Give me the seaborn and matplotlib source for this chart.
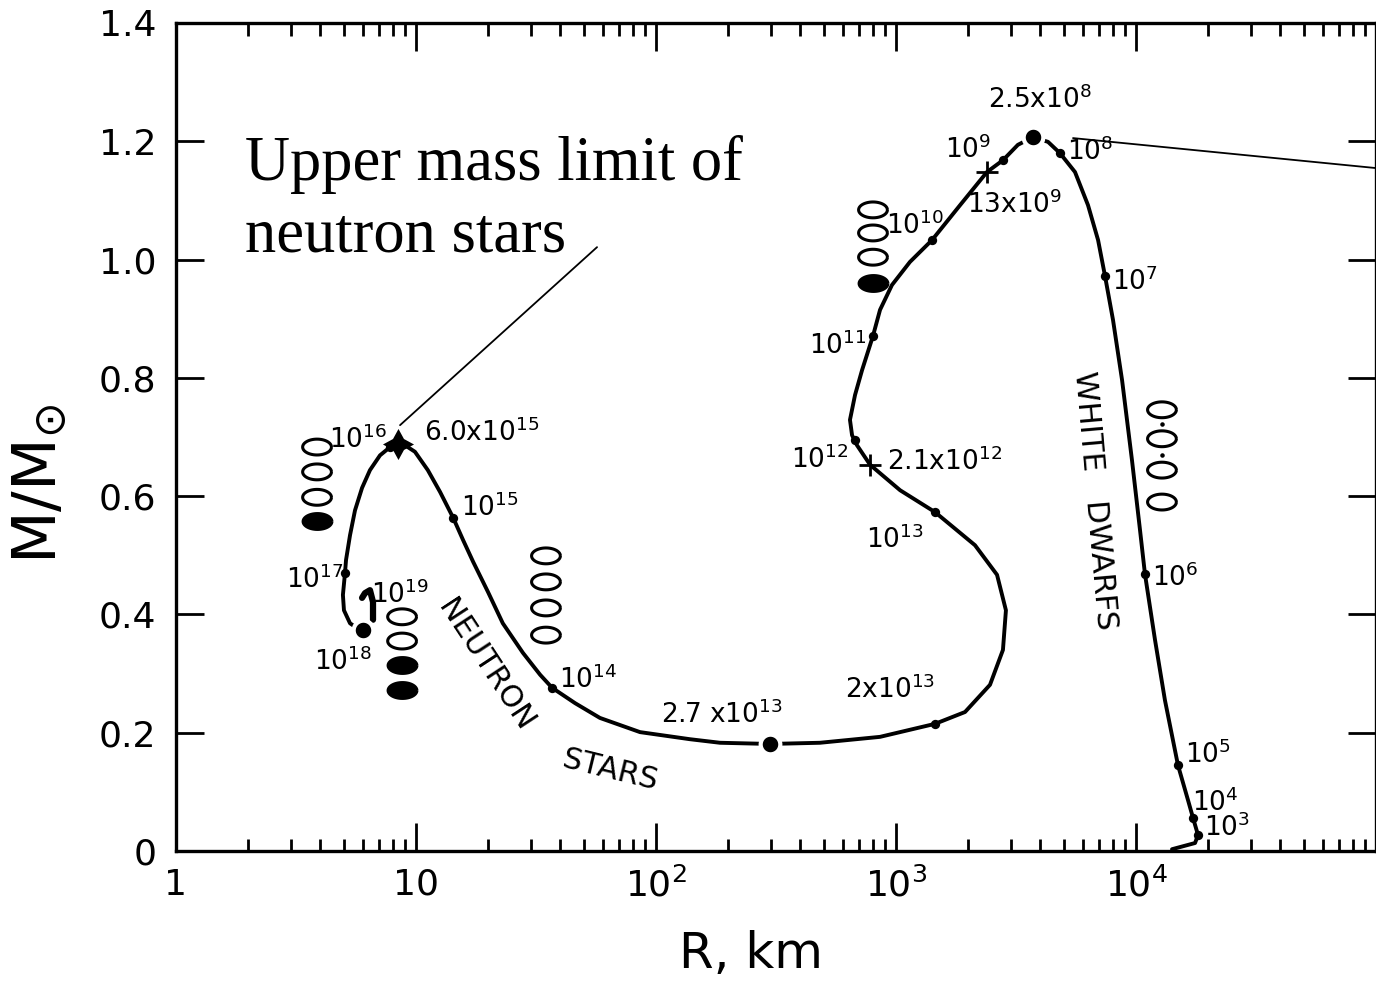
import numpy as np
import matplotlib
matplotlib.use('Agg')
import matplotlib.pyplot as plt
import seaborn as sns
from matplotlib.path import Path
from matplotlib.ticker import LogLocator, NullLocator

# mass-radius curve, from the white dwarf end (low density) to the neutron star end
R_curve = [14125, 17620, 18130, 17280, 16470, 14960, 13200, 12000, 10900, 10390,
           9620, 8750, 8020, 7430, 6950, 6310, 5570, 4820, 4300, 3720,
           3220, 2790, 2393, 1849, 1413, 1143, 962, 858, 802, 722,
           675, 643, 656, 688, 780, 1040, 1454, 2134, 2636, 2871,
           2790, 2464, 1939, 1454, 858, 482, 298, 184.8, 138.6, 85.8,
           58.4, 46.0, 36.9, 32.9, 27.9, 23.0, 19.95, 17.3, 15.7, 14.3,
           12.6, 11.2, 9.9, 9.0, 8.41, 7.8, 7.08, 6.43, 5.96, 5.57,
           5.31, 5.11, 5.06, 4.96, 5.01, 5.31, 5.68, 6.01]
M_curve = [0.003, 0.0135, 0.027, 0.056, 0.086, 0.145, 0.255, 0.357, 0.468, 0.543,
           0.661, 0.796, 0.898, 0.972, 1.033, 1.092, 1.148, 1.180, 1.199, 1.207,
           1.194, 1.168, 1.148, 1.092, 1.033, 0.996, 0.957, 0.915, 0.871, 0.813,
           0.771, 0.729, 0.703, 0.686, 0.653, 0.610, 0.573, 0.517, 0.467, 0.407,
           0.340, 0.281, 0.235, 0.215, 0.193, 0.183, 0.181, 0.183, 0.189, 0.201,
           0.225, 0.250, 0.276, 0.298, 0.335, 0.385, 0.438, 0.489, 0.526, 0.563,
           0.607, 0.644, 0.675, 0.686, 0.688, 0.683, 0.669, 0.644, 0.614, 0.576,
           0.534, 0.492, 0.470, 0.433, 0.407, 0.385, 0.377, 0.374]

# little hook up to 10^19
R_hook = [6.62, 6.62, 6.43, 6.13, 5.96]
M_hook = [0.391, 0.421, 0.441, 0.436, 0.428]

# central density points
R_dots = [18130, 17280, 14960, 10900, 7430, 4820, 2790, 1413, 802, 675,
          1454, 1454, 36.9, 14.3, 7.8, 5.06]
M_dots = [0.027, 0.056, 0.145, 0.468, 0.972, 1.180, 1.168, 1.033, 0.871, 0.695,
          0.573, 0.215, 0.276, 0.563, 0.683, 0.470]
R_big = [3720, 298, 6.01]
M_big = [1.207, 0.181, 0.374]
R_cross = [2393, 780]
M_cross = [1.148, 0.653]
R_star = [8.41]
M_star = [0.688]

# density labels
lab_text = ['2.5x$10^8$', '$10^9$', '$10^8$', '$10^{10}$', '13x$10^9$', '$10^7$',
            '$10^{11}$', '$10^{12}$', '2.1x$10^{12}$', '$10^{13}$', '2x$10^{13}$',
            '2.7 x$10^{13}$', '$10^{14}$', '$10^{15}$', '6.0x$10^{15}$', '$10^{16}$',
            '$10^{17}$', '$10^{19}$', '$10^{18}$', '$10^6$', '$10^5$', '$10^4$', '$10^3$']
lab_R = [3981, 1995, 6430, 1200, 3133, 9900, 573, 482, 1600, 990, 944,
         188, 52.1, 20.3, 18.8, 5.73, 3.80, 8.58, 4.96, 14540, 19950, 21330, 23950]
lab_M = [1.270, 1.185, 1.182, 1.058, 1.092, 0.962, 0.855, 0.661, 0.658, 0.526, 0.272,
         0.230, 0.289, 0.580, 0.708, 0.695, 0.458, 0.433, 0.320, 0.462, 0.162, 0.081, 0.039]

# shell occupancy ovals (open / filled)
R_open = [3.87, 3.87, 3.87, 8.75, 8.75, 34.8, 34.8, 34.8, 34.8,
          802, 802, 802, 12830, 12830, 12830, 12830]
M_open = [0.683, 0.641, 0.598, 0.396, 0.355, 0.499, 0.455, 0.411, 0.365,
          1.084, 1.045, 1.004, 0.746, 0.697, 0.644, 0.590]
R_fill = [3.87, 8.75, 8.75, 802]
M_fill = [0.558, 0.314, 0.272, 0.960]
R_tiny = [12830, 12830]
M_tiny = [0.722, 0.670]

xticks = [1, 10, 100, 1000, 10000]
xticklabels = ['1', '10', '$10^2$', '$10^3$', '$10^4$']
yticks = [0, 0.2, 0.4, 0.6, 0.8, 1.0, 1.2, 1.4]
yticklabels = ['0', '0.2', '0.4', '0.6', '0.8', '1.0', '1.2', '1.4']

sns.set_style('ticks')
plt.rcParams['font.family'] = ['DejaVu Sans']
plt.rcParams['mathtext.default'] = 'regular'
plt.rcParams['text.color'] = 'k'
plt.rcParams['axes.labelcolor'] = 'k'
plt.rcParams['xtick.color'] = 'k'
plt.rcParams['ytick.color'] = 'k'

fig = plt.figure(figsize=(13.76, 9.83), dpi=100)
ax = fig.add_axes([176/1376, 1-851/983, 1200/1376, 828/983])

sns.lineplot(x=R_curve, y=M_curve, sort=False, estimator=None, color='k', lw=2.8, ax=ax)
sns.lineplot(x=R_hook, y=M_hook, sort=False, estimator=None, color='k', lw=4.5, ax=ax)
sns.scatterplot(x=R_dots, y=M_dots, color='k', s=45, linewidth=0, ax=ax, zorder=5)
sns.scatterplot(x=R_big, y=M_big, color='k', s=200, edgecolor='white', linewidth=3, ax=ax, zorder=6)
sns.scatterplot(x=R_cross, y=M_cross, color='k', marker='+', s=260, linewidth=2, ax=ax, zorder=6)
sns.scatterplot(x=R_star, y=M_star, color='k', marker=(4, 1, 0), s=500, linewidth=0, ax=ax, zorder=6)

t = np.linspace(0, 2*np.pi, 60)
oval = Path(np.c_[np.cos(t), 0.55*np.sin(t)])
ax.scatter(R_open, M_open, marker=oval, s=430, facecolors='none', edgecolors='k', linewidths=2.2, zorder=5)
ax.scatter(R_fill, M_fill, marker=oval, s=430, facecolors='k', edgecolors='k', linewidths=2.2, zorder=5)
ax.scatter(R_tiny, M_tiny, s=5, color='k', zorder=5)

for txt, r, m in zip(lab_text, lab_R, lab_M):
    ax.text(r, m, txt, fontsize=19, ha='center', va='center')

ax.text(19.4, 0.3145, 'NEUTRON', fontsize=22, rotation=-56.7, ha='center', va='center',
        rotation_mode='anchor')
ax.text(64.3, 0.137, 'STARS', fontsize=22, rotation=-13.8, ha='center', va='center',
        rotation_mode='anchor')
ax.text(6750, 0.593, 'WHITE   DWARFS', fontsize=22, rotation=-85, ha='center', va='center',
        rotation_mode='anchor')

# annotation
ax.text(1.94, 1.134, 'Upper mass limit of', fontsize=45, family='Liberation Serif', va='baseline')
ax.text(1.94, 1.013, 'neutron stars', fontsize=45, family='Liberation Serif', va='baseline')
ax.plot([56.8, 8.58], [1.021, 0.720], color='k', lw=1.3)
ax.annotate('', xy=(5465, 1.2054), xytext=(1.0, 1.1547),
            textcoords=('axes fraction', 'data'),
            arrowprops=dict(arrowstyle='-', color='k', lw=1.3, shrinkA=0, shrinkB=0),
            annotation_clip=False)

ax.set_xscale('log')
ax.set_xlim(1, 1e5)
ax.set_ylim(0, 1.4)
ax.set_xticks(xticks)
ax.set_xticklabels(xticklabels)
ax.xaxis.set_minor_locator(LogLocator(base=10, subs=np.arange(2, 10), numticks=20))
ax.set_yticks(yticks)
ax.set_yticklabels(yticklabels)
ax.yaxis.set_minor_locator(NullLocator())
ax.tick_params(which='both', direction='in', top=True, right=True, width=2, color='k')
ax.tick_params(axis='x', which='major', length=20, labelsize=26, pad=12)
ax.tick_params(axis='x', which='minor', length=9)
ax.tick_params(axis='y', which='major', length=20, labelsize=26, pad=14)
for sp in ax.spines.values():
    sp.set_linewidth(2.4)
    sp.set_color('k')

ax.set_xlabel('R, km', fontsize=36)
ax.set_ylabel(r'M/M$_{\odot}$', fontsize=44)
ax.xaxis.set_label_coords(0.479, -0.0954)
ax.yaxis.set_label_coords(-0.088, 0.444)

fig.savefig('out.png', dpi=100)
